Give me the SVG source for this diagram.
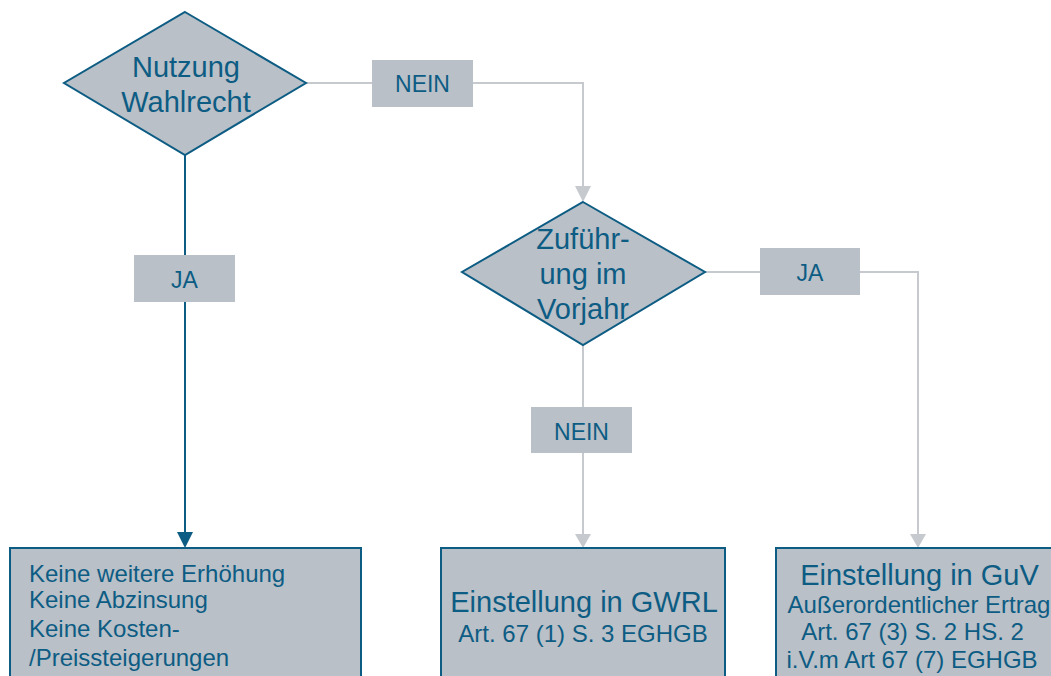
<svg xmlns="http://www.w3.org/2000/svg" width="1051" height="676" viewBox="0 0 1051 676">
<defs>
<style>
.shape{fill:#b9c0c7;stroke:#0d5c84;stroke-width:2}
.lbl{fill:#b9c0c7}
.t{font-family:"Liberation Sans",Arial,sans-serif;fill:#0d5c84}
.big{font-size:29px}
.sm{font-size:24px}
.lb{font-size:23px}
.gray{stroke:#c6c9ce;stroke-width:2;fill:none}
.blue{stroke:#0d5c84;stroke-width:2;fill:none}
</style>
</defs>
<rect width="1051" height="676" fill="#ffffff"/>
<g id="connectors">
<polyline class="gray" points="306,83 583,83 583,190"/>
<polygon points="575,186 591,186 583,202" fill="#c6c9ce"/>
<line class="blue" x1="185" y1="155" x2="185" y2="534"/>
<polygon points="177,532 193,532 185,548" fill="#0d5c84"/>
<polyline class="gray" points="705,272 918,272 918,538"/>
<polygon points="910,534 926,534 918,548" fill="#c6c9ce"/>
<line class="gray" x1="583" y1="345" x2="583" y2="538"/>
<polygon points="575,534 591,534 583,548" fill="#c6c9ce"/>
<g id="label-nein-1"><rect class="lbl" x="372" y="60" width="101" height="47"/><text class="t lb" x="422.5" y="92" text-anchor="middle">NEIN</text></g>
<g id="label-ja-1"><rect class="lbl" x="134" y="255" width="101" height="47"/><text class="t lb" x="184.5" y="288" text-anchor="middle">JA</text></g>
<g id="label-ja-2"><rect class="lbl" x="760" y="248" width="100" height="47"/><text class="t lb" x="810" y="281" text-anchor="middle">JA</text></g>
<g id="label-nein-2"><rect class="lbl" x="531" y="407" width="101" height="46"/><text class="t lb" x="581.5" y="440" text-anchor="middle">NEIN</text></g>
</g>
<g id="nutzung">
<polygon class="shape" points="185,12 306,83 185,155 64,83"/>
<text class="t big" text-anchor="middle"><tspan x="186" y="77">Nutzung</tspan><tspan x="186" y="112">Wahlrecht</tspan></text>
</g>
<g id="zufuehrung">
<polygon class="shape" points="583,202 705,272 583,345 462,272"/>
<text class="t big" text-anchor="middle"><tspan x="583" y="249">Zuführ-</tspan><tspan x="583" y="284">ung im</tspan><tspan x="583" y="319">Vorjahr</tspan></text>
</g>
<g id="keine">
<rect class="shape" x="10" y="548" width="351" height="140"/>
<text class="t sm"><tspan x="29" y="582">Keine weitere Erhöhung</tspan><tspan x="29" y="608">Keine Abzinsung</tspan><tspan x="29" y="637">Keine Kosten-</tspan><tspan x="29" y="666">/Preissteigerungen</tspan></text>
</g>
<g id="gwrl">
<rect class="shape" x="441" y="548" width="284" height="140"/>
<text class="t" text-anchor="middle"><tspan class="big" x="584" y="612">Einstellung in GWRL</tspan><tspan class="sm" x="583" y="642">Art. 67 (1) S. 3 EGHGB</tspan></text>
</g>
<g id="guv">
<rect class="shape" x="776" y="548" width="290" height="140"/>
<text class="t" text-anchor="middle"><tspan class="big" x="919.5" y="585">Einstellung in GuV</tspan><tspan class="sm" x="919" y="613">Außerordentlicher Ertrag</tspan><tspan class="sm" x="912.5" y="640">Art. 67 (3) S. 2 HS. 2</tspan><tspan class="sm" x="912" y="668">i.V.m Art 67 (7) EGHGB</tspan></text>
</g>
</svg>
